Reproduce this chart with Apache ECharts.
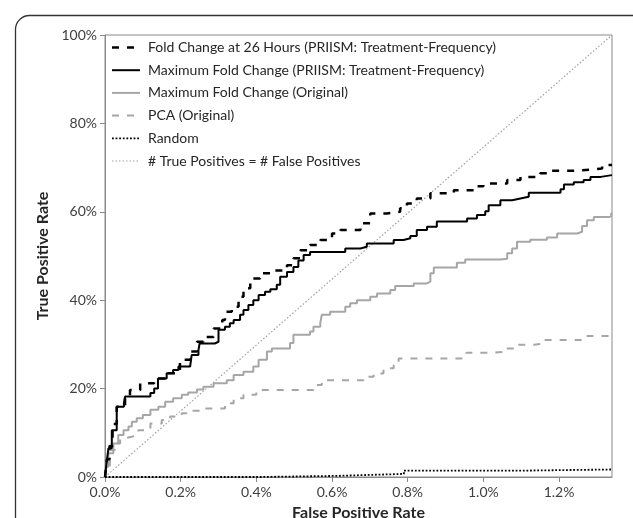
<!DOCTYPE html>
<html>
<head>
<meta charset="utf-8">
<script src="https://cdn.jsdelivr.net/npm/echarts@6/dist/echarts.min.js"></script>
<style>html,body{margin:0;padding:0;background:#fff}#c{width:633px;height:518px}</style>
</head>
<body>
<div id="c"></div>
<script>
// Values: x = false positive rate (%), y = true positive rate (%)
const seriesNames = [
  'Fold Change at 26 Hours (PRIISM: Treatment-Frequency)',
  'Maximum Fold Change (PRIISM: Treatment-Frequency)',
  'Maximum Fold Change (Original)',
  'PCA (Original)',
  'Random',
  '# True Positives = # False Positives'
];
const fold26 = [[0,0],[0.005,4],[0.012,7],[0.02,12],[0.031,15.9],[0.053,18.5],[0.066,19.7],[0.093,21.2],[0.13,22.3],[0.163,23.5],[0.198,26.5],[0.225,28.4],[0.243,30.6],[0.26,31.7],[0.287,33.6],[0.31,35.5],[0.317,37.4],[0.335,38.5],[0.353,40.8],[0.366,42.7],[0.384,44.9],[0.41,46.1],[0.445,46.7],[0.481,47.9],[0.498,49.5],[0.516,51.3],[0.542,52.5],[0.569,53.6],[0.6,55.1],[0.622,55.9],[0.675,57.4],[0.701,59.6],[0.745,60],[0.78,60.8],[0.798,61.9],[0.824,63],[0.86,64.2],[0.922,64.9],[0.983,65.8],[1.0,66.4],[1.063,67.2],[1.098,67.9],[1.15,68.7],[1.168,69.3],[1.239,69.6],[1.292,69.8],[1.314,70.6],[1.34,70.6]];
const maxFoldPriism = [[0,0],[0.005,3.8],[0.009,6.5],[0.018,10.6],[0.031,15.9],[0.05,16.7],[0.053,18.2],[0.11,18.2],[0.12,19],[0.13,20],[0.14,22.3],[0.163,23.5],[0.18,24.2],[0.194,25],[0.225,25.3],[0.229,27.6],[0.247,28.7],[0.25,30.2],[0.29,30.6],[0.3,33.3],[0.317,34],[0.33,34.8],[0.34,35.5],[0.357,36.7],[0.366,37.8],[0.379,38.9],[0.392,40],[0.406,41.2],[0.423,41.9],[0.437,42.5],[0.454,43.5],[0.463,45.3],[0.481,46.4],[0.498,47.5],[0.511,49],[0.525,50.2],[0.542,50.9],[0.613,50.9],[0.635,51.7],[0.675,52.1],[0.692,52.8],[0.745,52.8],[0.763,53.6],[0.789,54],[0.807,54.5],[0.824,55.9],[0.851,56.6],[0.877,57.8],[0.948,57.8],[0.957,58.5],[0.983,59.3],[1.005,60.1],[1.014,61.5],[1.045,62.6],[1.076,63],[1.098,63.4],[1.12,64.3],[1.186,64.3],[1.204,65.1],[1.213,66.2],[1.239,66.7],[1.265,67.2],[1.283,67.9],[1.31,68.3],[1.34,68.3]];
const maxFoldOrig = [[0,0],[0.002,2.3],[0.009,5.4],[0.022,7.6],[0.035,9.5],[0.049,10.6],[0.062,11.4],[0.071,12.5],[0.084,13.3],[0.1,14],[0.12,15.2],[0.141,15.9],[0.159,17],[0.18,17.8],[0.203,18.6],[0.22,19.1],[0.243,19.8],[0.26,20.4],[0.287,21.2],[0.322,21.9],[0.34,23.1],[0.366,23.8],[0.392,25],[0.406,26.5],[0.428,28.4],[0.441,29.1],[0.489,30.3],[0.498,32.2],[0.542,32.9],[0.551,34],[0.569,34.8],[0.573,36.7],[0.595,37.4],[0.626,37.4],[0.635,38.5],[0.648,39.3],[0.666,40],[0.701,40.8],[0.719,41.5],[0.754,42.3],[0.767,43.2],[0.816,43.8],[0.851,44.2],[0.86,46.1],[0.869,47.4],[0.93,48.5],[0.952,49.2],[1.045,49.4],[1.063,50.6],[1.076,51.7],[1.089,53.2],[1.124,53.7],[1.168,54.2],[1.195,55.1],[1.248,55.5],[1.261,56.8],[1.274,58.1],[1.292,58.8],[1.331,59],[1.338,59.7],[1.34,59.7]];
const pcaOrig = [[0,0],[0.002,2],[0.013,6.1],[0.026,7.6],[0.04,8.7],[0.049,9.1],[0.07,9.5],[0.088,10.6],[0.12,12.1],[0.15,12.9],[0.172,13.7],[0.203,14.4],[0.22,15],[0.25,15.5],[0.304,15.5],[0.317,16.7],[0.34,17.8],[0.366,18.6],[0.4,19.7],[0.551,20.8],[0.573,21.9],[0.683,22.7],[0.71,23.4],[0.736,24.6],[0.763,25.3],[0.776,26.8],[0.948,27],[0.955,28.1],[1.018,28.3],[1.049,29.1],[1.089,29.9],[1.133,30.2],[1.16,31],[1.257,31.2],[1.274,31.9],[1.336,32.1],[1.34,32.6]];
const randomLine = [[0,0],[0.41,0.25],[0.61,0.7],[0.79,1.45],[1.11,1.7],[1.34,1.7]];
const equalLine = [[0,0],[1.34,100]];
const xTicks = [0,0.2,0.4,0.6,0.8,1.0,1.2];
const yTicks = [0,20,40,60,80,100];
const xMax = 1.34;

const FONT = 'Lato, "Noto Sans", sans-serif';
const BLACK = '#000000', GRAY = '#a6a6a6';
const seriesData = [fold26, maxFoldPriism, maxFoldOrig, pcaOrig, randomLine, equalLine];
const styles = [
  {color:BLACK, width:2.5, dash:[7,8], step:true},
  {color:BLACK, width:2, dash:null, step:true},
  {color:GRAY, width:2, dash:null, step:true},
  {color:GRAY, width:2, dash:[7,8], step:true},
  {color:BLACK, width:1.8, dash:[1.8,1.8], step:true},
  {color:'#a0a0a0', width:1.2, dash:[1.5,2], step:false}
];

const chart = echarts.init(document.getElementById('c'), null, {renderer:'canvas'});

const legendGraphics = [];
seriesNames.forEach((name, i) => {
  const st = styles[i];
  const y = 47.5 + i * 22.7;
  legendGraphics.push({type:'line', shape:{x1:112, y1:y, x2:140, y2:y},
    style:{stroke:st.color, lineWidth:st.width, lineDash:st.dash || null}, z:20, silent:true});
  legendGraphics.push({type:'text', x:148, y:y,
    style:{text:name, font:'14px ' + FONT, fill:'#262626', verticalAlign:'middle', align:'left'}, z:20, silent:true});
});

chart.setOption({
  animation:false,
  backgroundColor:'#fff',
  graphic:[{type:'rect', left:13, top:13, shape:{width:720, height:620, r:14}, style:{fill:'none', stroke:'#333', lineWidth:1.3}, z:-10}].concat(legendGraphics),
  grid:{left:105, top:35, right:21, bottom:41, show:true, borderColor:'#8a8a8a', borderWidth:1, containLabel:false, outerBoundsMode:'none'},
  xAxis:{
    type:'value', min:0, max:xMax, interval:0.2,
    axisLine:{lineStyle:{color:'#8a8a8a', width:1}},
    axisTick:{show:true, length:5, lineStyle:{color:'#8a8a8a'}, customValues:xTicks},
    axisLabel:{customValues:xTicks, formatter:v=>v.toFixed(1)+'%', fontFamily:FONT, fontSize:14, color:'#404040', margin:8},
    splitLine:{show:false},
    name:'False Positive Rate', nameLocation:'middle', nameGap:28,
    nameTextStyle:{fontFamily:FONT, fontSize:16, fontWeight:'bold', color:'#262626'}
  },
  yAxis:{
    type:'value', min:0, max:100, interval:20,
    axisLine:{show:true, lineStyle:{color:'#8a8a8a', width:1}},
    axisTick:{show:true, length:5, lineStyle:{color:'#8a8a8a'}, customValues:yTicks},
    axisLabel:{customValues:yTicks, formatter:v=>v+'%', fontFamily:FONT, fontSize:14, color:'#404040', margin:8},
    splitLine:{show:false},
    name:'True Positive Rate', nameLocation:'middle', nameGap:49, nameRotate:90,
    nameTextStyle:{fontFamily:FONT, fontSize:16, fontWeight:'bold', color:'#262626'}
  },
  series: seriesNames.map((name, i) => {
    const st = styles[i];
    return {name, type:'line', data:seriesData[i], step: st.step ? 'end' : false,
      symbol:'none', showSymbol:false, silent:true, z: 10 - i,
      lineStyle:{color:st.color, width:st.width, type: st.dash || 'solid'}, itemStyle:{color:st.color}};
  })
});
</script>
</body>
</html>
